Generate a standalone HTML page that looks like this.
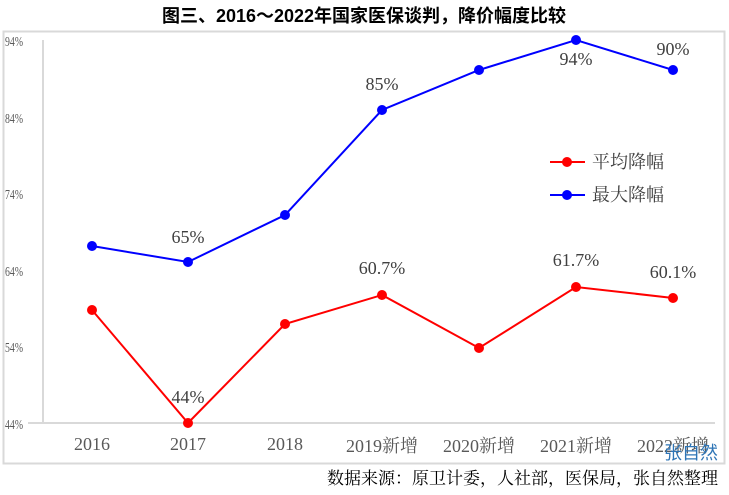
<!DOCTYPE html>
<html><head><meta charset="utf-8"><style>
body{margin:0;background:#fff;width:729px;height:490px;overflow:hidden}
</style></head><body>
<svg width="729" height="490" xmlns="http://www.w3.org/2000/svg">
<text x="364" y="22" text-anchor="middle" font-family="'Liberation Sans','Noto Sans CJK SC',sans-serif" font-weight="bold" font-size="18" fill="#000">图三、2016～2022年国家医保谈判，降价幅度比较</text>
<rect x="3.5" y="31.5" width="721" height="432" fill="none" stroke="#d9d9d9" stroke-width="2"/>
<line x1="43" y1="40" x2="43" y2="423" stroke="#d9d9d9" stroke-width="2"/>
<line x1="28" y1="423" x2="715" y2="423" stroke="#d9d9d9" stroke-width="2"/>
<g font-family="'Liberation Serif','Noto Serif CJK SC',serif" font-size="14" fill="#595959">
<text x="5" y="46" textLength="18" lengthAdjust="spacingAndGlyphs">94%</text><text x="5" y="123" textLength="18" lengthAdjust="spacingAndGlyphs">84%</text><text x="5" y="199" textLength="18" lengthAdjust="spacingAndGlyphs">74%</text>
<text x="5" y="276" textLength="18" lengthAdjust="spacingAndGlyphs">64%</text><text x="5" y="352" textLength="18" lengthAdjust="spacingAndGlyphs">54%</text><text x="5" y="429" textLength="18" lengthAdjust="spacingAndGlyphs">44%</text>
</g>
<g font-family="'Liberation Serif','Noto Serif CJK SC',serif" font-size="18" fill="#595959" text-anchor="middle">
<text x="92" y="450">2016</text><text x="188" y="450">2017</text><text x="285" y="450">2018</text>
<text x="382" y="452">2019新增</text><text x="479" y="452">2020新增</text><text x="576" y="452">2021新增</text><text x="673" y="452">2022新增</text>
</g>
<polyline points="92,246 188,262 285,215 382,110 479,70 576,40 673,70" fill="none" stroke="#0000ff" stroke-width="2"/>
<polyline points="92,310 188,423 285,324 382,295 479,348 576,287 673,298" fill="none" stroke="#ff0000" stroke-width="2"/>
<g fill="#0000ff"><circle cx="92" cy="246" r="5"/><circle cx="188" cy="262" r="5"/><circle cx="285" cy="215" r="5"/><circle cx="382" cy="110" r="5"/><circle cx="479" cy="70" r="5"/><circle cx="576" cy="40" r="5"/><circle cx="673" cy="70" r="5"/></g>
<g fill="#ff0000"><circle cx="92" cy="310" r="5"/><circle cx="188" cy="423" r="5"/><circle cx="285" cy="324" r="5"/><circle cx="382" cy="295" r="5"/><circle cx="479" cy="348" r="5"/><circle cx="576" cy="287" r="5"/><circle cx="673" cy="298" r="5"/></g>
<g font-family="'Liberation Serif','Noto Serif CJK SC',serif" font-size="18" fill="#404040" text-anchor="middle">
<text x="188" y="243">65%</text><text x="382" y="90">85%</text><text x="576" y="65">94%</text><text x="673" y="55">90%</text>
<text x="188" y="403">44%</text><text x="382" y="274">60.7%</text><text x="576" y="266">61.7%</text><text x="673" y="278">60.1%</text>
</g>
<line x1="550" y1="162" x2="585" y2="162" stroke="#ff0000" stroke-width="2"/><circle cx="567" cy="162" r="5" fill="#ff0000"/>
<line x1="550" y1="195" x2="585" y2="195" stroke="#0000ff" stroke-width="2"/><circle cx="567" cy="195" r="5" fill="#0000ff"/>
<g font-family="'Liberation Serif','Noto Serif CJK SC',serif" font-size="18" fill="#404040">
<text x="592" y="168">平均降幅</text><text x="592" y="201">最大降幅</text>
</g>
<text x="664" y="459" font-family="'Liberation Sans','Noto Sans CJK SC',sans-serif" font-size="18" fill="#2e75b6">张自然</text>
<text x="718" y="484" text-anchor="end" font-family="'Liberation Serif','Noto Serif CJK SC',serif" font-size="17" fill="#000">数据来源：原卫计委，人社部，医保局，张自然整理</text>
</svg>
</body></html>
